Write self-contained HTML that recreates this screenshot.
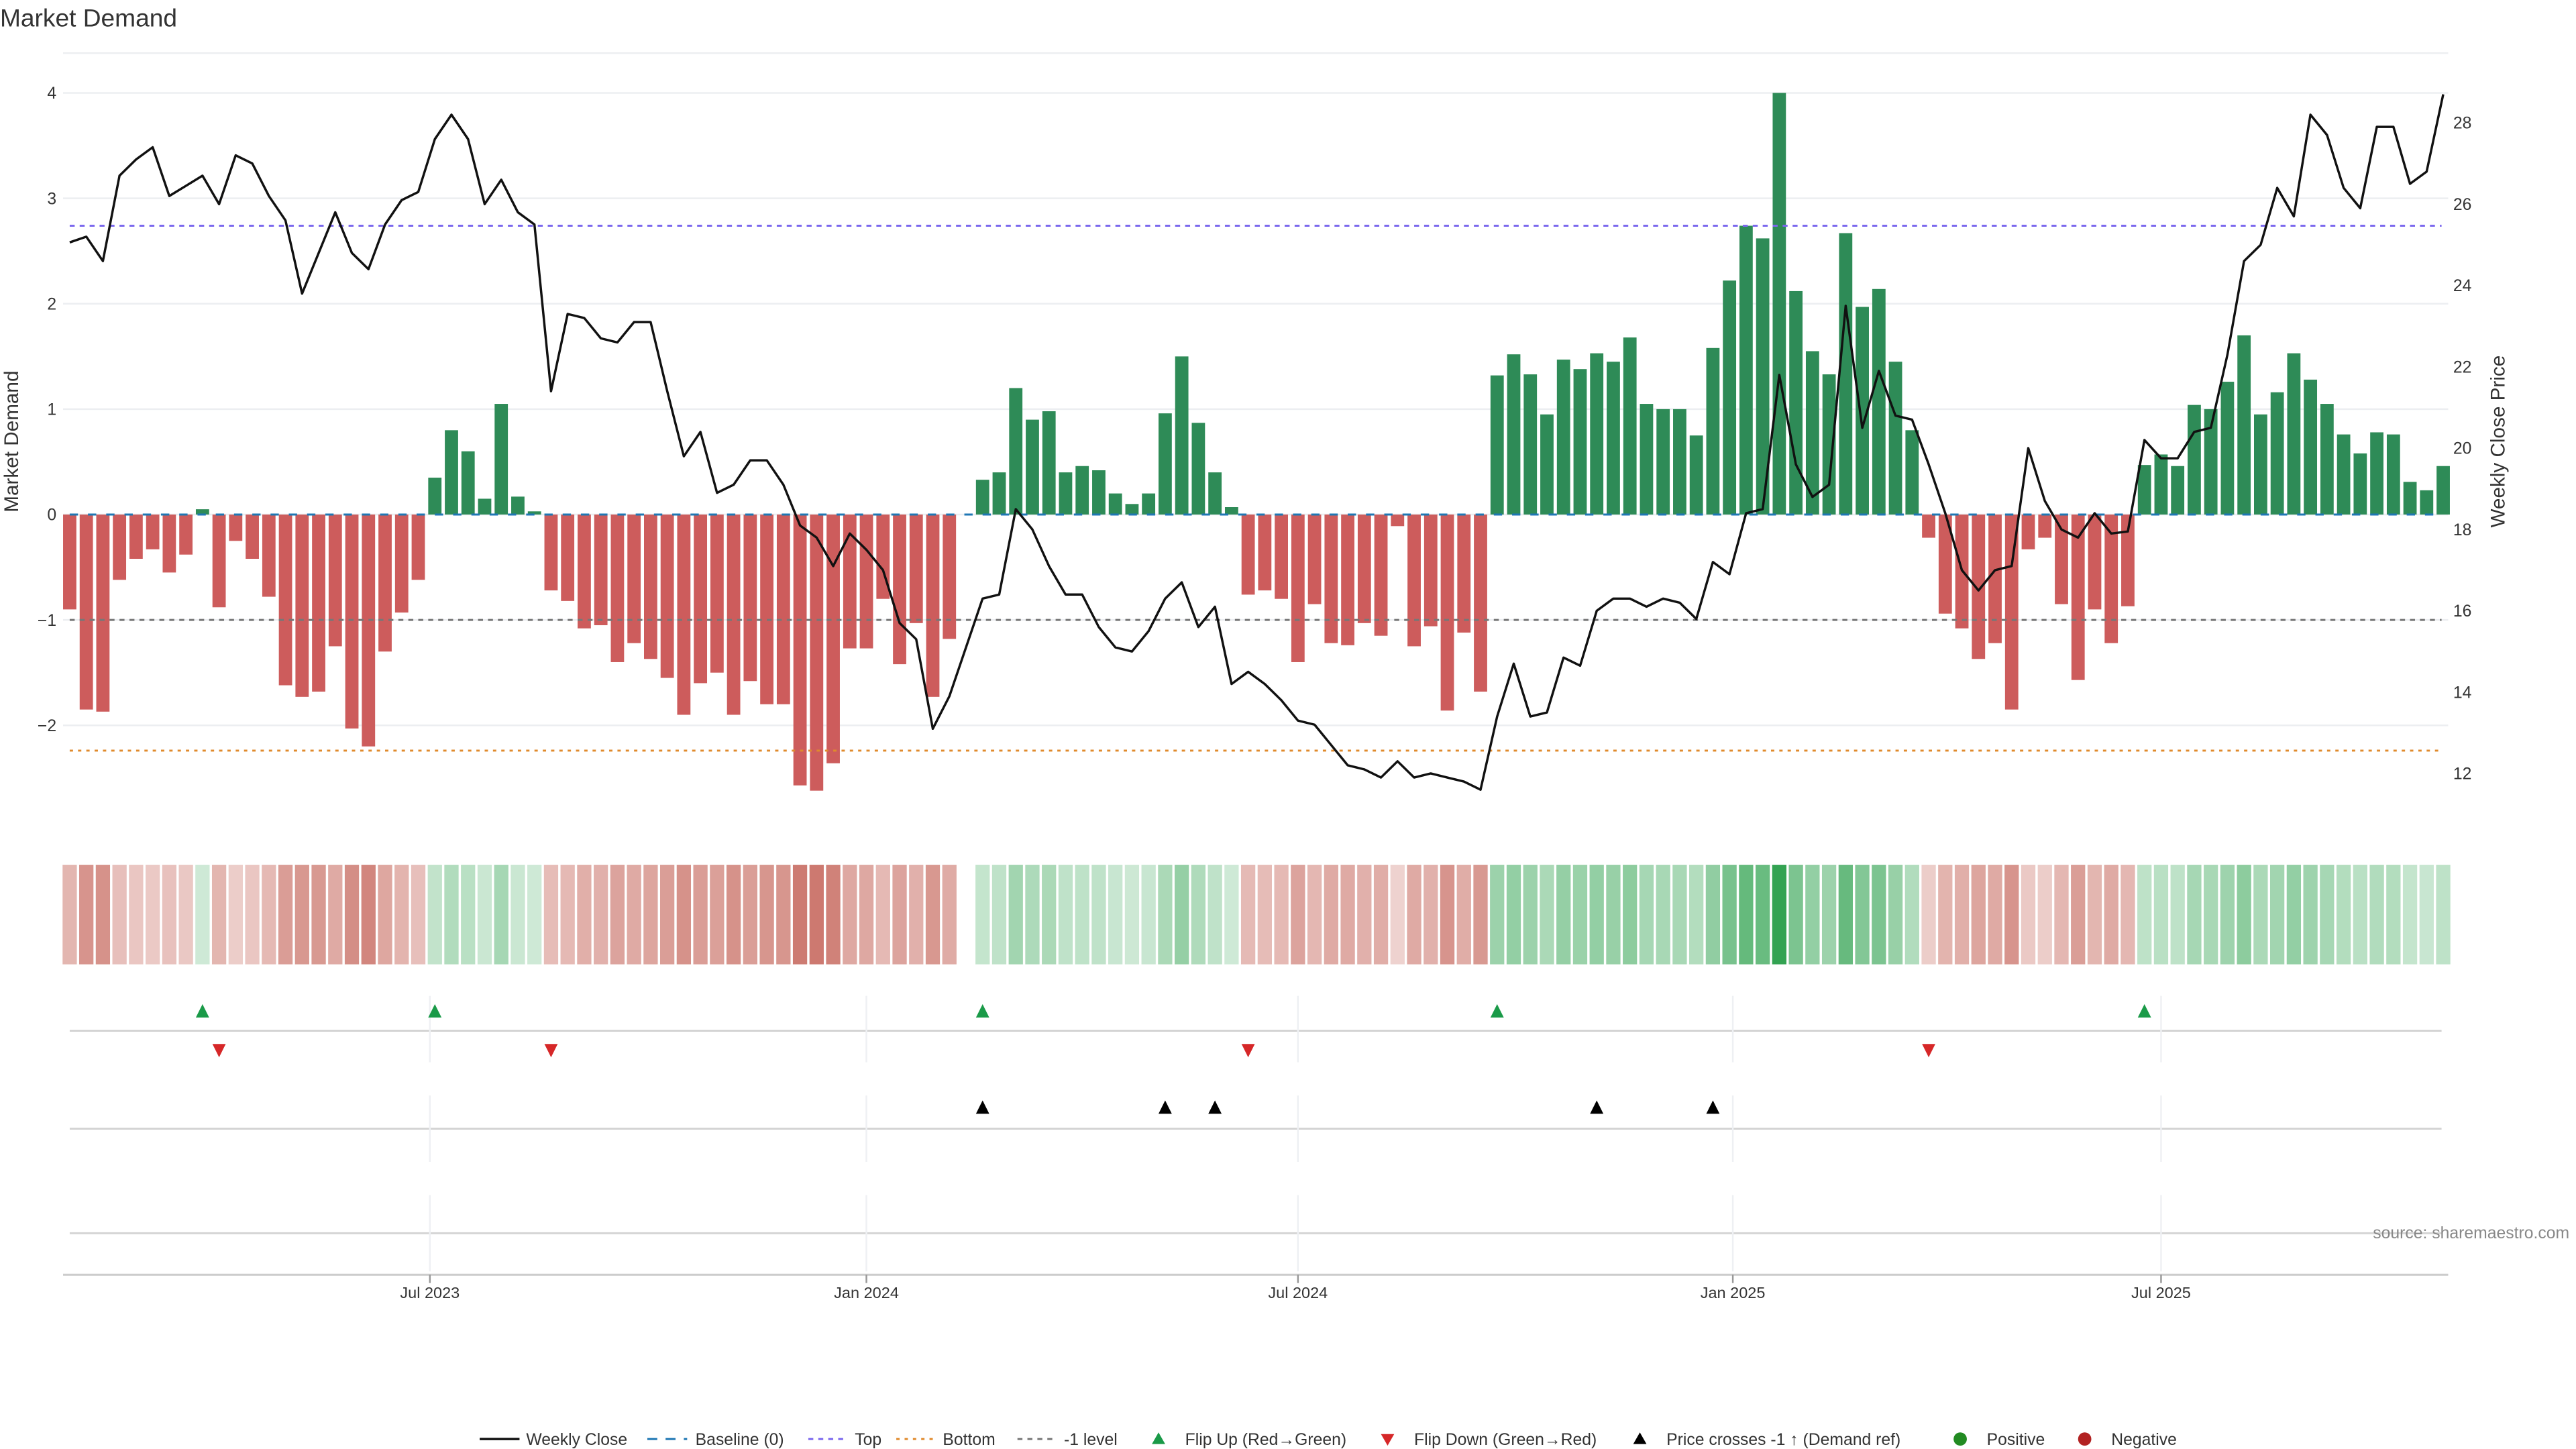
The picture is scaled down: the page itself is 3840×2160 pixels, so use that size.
<!DOCTYPE html>
<html><head><meta charset="utf-8"><title>Market Demand</title>
<style>
html,body{margin:0;padding:0;background:#fff;}
svg{display:block;font-family:"Liberation Sans","DejaVu Sans",sans-serif;}
</style></head>
<body>
<svg id="chart" width="3840" height="2160" viewBox="0 0 1552 873" xmlns="http://www.w3.org/2000/svg">
<rect width="1552" height="873" fill="#fff"/>
<text x="0" y="16" font-size="15" fill="#333">Market Demand</text>
<text transform="translate(11,266) rotate(-90)" text-anchor="middle" font-size="12" fill="#333">Market Demand</text>
<text transform="translate(1509,266) rotate(-90)" text-anchor="middle" font-size="12" fill="#333">Weekly Close Price</text>
<g id="grid"></g>
<g id="bars"></g>
<g id="refs"></g>
<g id="price"></g>
<g id="heat"></g>
<g id="markers"></g>
<g id="xaxis"></g>
<text x="1548" y="746" text-anchor="end" font-size="10" fill="#888">source: sharemaestro.com</text>
<g id="legend"></g>
</svg>
<script>
const demand = [-0.9,-1.85,-1.87,-0.62,-0.42,-0.33,-0.55,-0.38,0.05,-0.88,-0.25,-0.42,-0.78,-1.62,-1.73,-1.68,-1.25,-2.03,-2.2,-1.3,-0.93,-0.62,0.35,0.8,0.6,0.15,1.05,0.17,0.03,-0.72,-0.82,-1.08,-1.05,-1.4,-1.22,-1.37,-1.55,-1.9,-1.6,-1.5,-1.9,-1.58,-1.8,-1.8,-2.57,-2.62,-2.36,-1.27,-1.27,-0.8,-1.42,-1.03,-1.73,-1.18,0,0.33,0.4,1.2,0.9,0.98,0.4,0.46,0.42,0.2,0.1,0.2,0.96,1.5,0.87,0.4,0.07,-0.76,-0.72,-0.8,-1.4,-0.85,-1.22,-1.24,-1.03,-1.15,-0.11,-1.25,-1.06,-1.86,-1.12,-1.68,1.32,1.52,1.33,0.95,1.47,1.38,1.53,1.45,1.68,1.05,1.0,1.0,0.75,1.58,2.22,2.74,2.62,4.0,2.12,1.55,1.33,2.67,1.97,2.14,1.45,0.8,-0.22,-0.94,-1.08,-1.37,-1.22,-1.85,-0.33,-0.22,-0.85,-1.57,-0.9,-1.22,-0.87,0.47,0.57,0.46,1.04,1.0,1.26,1.7,0.95,1.16,1.53,1.28,1.05,0.76,0.58,0.78,0.76,0.31,0.23,0.46];
const closes = [25.06,25.2,24.6,26.7,27.1,27.4,26.2,26.45,26.7,26.0,27.2,27.0,26.2,25.6,23.8,24.8,25.8,24.8,24.4,25.5,26.1,26.3,27.6,28.2,27.6,26.0,26.6,25.8,25.5,21.4,23.3,23.2,22.7,22.6,23.1,23.1,21.4,19.8,20.4,18.9,19.1,19.7,19.7,19.1,18.1,17.8,17.1,17.9,17.5,17.0,15.7,15.3,13.1,13.9,15.1,16.3,16.4,18.5,18.0,17.1,16.4,16.4,15.6,15.1,15.0,15.5,16.3,16.7,15.6,16.1,14.2,14.5,14.2,13.8,13.3,13.2,12.7,12.2,12.1,11.9,12.3,11.9,12.0,11.9,11.8,11.6,13.4,14.7,13.4,13.5,14.85,14.65,16.0,16.3,16.3,16.1,16.3,16.2,15.8,17.2,16.9,18.4,18.5,21.8,19.6,18.8,19.1,23.5,20.5,21.9,20.8,20.7,19.6,18.4,17.0,16.5,17.0,17.1,20.0,18.7,18.0,17.8,18.4,17.9,17.95,20.2,19.75,19.75,20.4,20.5,22.3,24.6,25.0,26.4,25.7,28.2,27.7,26.4,25.9,27.9,27.9,26.5,26.8,28.7];
const priceCrossIdx = [55,66,69,92,99];
const leftTicks = [-2,-1,0,1,2,3,4];
const rightTicks = [12,14,16,18,20,22,24,26,28];
const xTickLabels = ["Jul 2023","Jan 2024","Jul 2024","Jan 2025","Jul 2025"];
const xTickWeeks = [21.7,48,74,100.2,126];
const topLevel = 2.74, bottomLevel = -2.24, minusLevel = -1;

const NS = "http://www.w3.org/2000/svg";
function mk(tag, attrs, parent){const e=document.createElementNS(NS,tag);for(const k in attrs)e.setAttribute(k,attrs[k]);parent.appendChild(e);return e;}
const X0=42, DX=10.0, PL=38, PR=1475, PT=32, PB=500;
const xs = i => X0 + i*DX;
const yD = v => 310 - v*63.5;
const yP = p => 74 + (28 - p)*24.5;

const grid=document.getElementById('grid');
leftTicks.forEach(t=>{
  const l=mk('line',{x1:PL,x2:PR,y1:yD(t),y2:yD(t),stroke:'#eceef1','stroke-width':1},grid);
  
  
  const tx=mk('text',{x:34,y:yD(t)+3.5,'text-anchor':'end','font-size':10,fill:'#333'},grid);
  tx.textContent=t<0?'\u2212'+Math.abs(t):String(t);
  
  
});
const gt=mk('line',{x1:PL,x2:PR,y1:PT,y2:PT,stroke:'#eceef1'},grid);


rightTicks.forEach(t=>{
  const tx=mk('text',{x:1478,y:yP(t)+3.5,'font-size':10,fill:'#333'},grid);
  tx.textContent=String(t);
  
  
});

const bars=document.getElementById('bars');
demand.forEach((v,i)=>{
  if(v===0)return;
  const y=Math.min(yD(v),310),h=Math.abs(yD(v)-310);
  const r=mk('rect',{x:xs(i)-4,y:y,width:8,height:h,fill:v>0?'#2e8b57':'#cd5c5c'},bars);
  
  
});

const refs=document.getElementById('refs');
const refDefs=[[0,'#1f77b4','5,6',1.2,'baseline-line'],[topLevel,'#7b68ee','3,3',1.2,'top-line'],[bottomLevel,'#e08a2c','2,3',1.2,'bottom-line'],[minusLevel,'#777','3,3',1.2,'minus-one-line']];
refDefs.forEach(d=>{
  const l=mk('line',{x1:42,x2:1471,y1:yD(d[0]),y2:yD(d[0]),stroke:d[1],'stroke-dasharray':d[2],'stroke-width':d[3]},refs);
  
  
});

const price=document.getElementById('price');
const pl=mk('polyline',{points:closes.map((p,i)=>xs(i)+','+yP(p)).join(' '),fill:'none',stroke:'#111','stroke-width':1.4,'stroke-linejoin':'round'},price);



const heat=document.getElementById('heat');
demand.forEach((v,i)=>{
  if(v===0)return;
  const a=Math.min(Math.abs(v)/4,1);
  const fill=v>0?'#2ca04c':'#c0584c';
  const op=v>0?(0.22+0.75*a):(0.25+0.55*Math.min(Math.abs(v)/2.6,1));
  const r=mk('rect',{x:xs(i)-4.3,y:521,width:8.6,height:60,fill:fill,'fill-opacity':op.toFixed(2)},heat);
  
  
});

const markers=document.getElementById('markers');
[[621,600,640],[680,660,700],[743,720,766]].forEach(row=>{
  const l=mk('line',{x1:42,x2:1471,y1:row[0],y2:row[0],stroke:'#d4d4d4','stroke-width':1.2},markers);
  
  
  xTickWeeks.forEach(w=>{
    const g=mk('line',{x1:xs(w),x2:xs(w),y1:row[1],y2:row[2],stroke:'#eef0f3'},markers);
    
    
  });
});
function tri(x,y,up,color,name){
  const pts=up?`${x-4},${y+4} ${x+4},${y+4} ${x},${y-4}`:`${x-4},${y-4} ${x+4},${y-4} ${x},${y+4}`;
  const t=mk('polygon',{points:pts,fill:color},markers);
  
  
}
for(let i=1;i<demand.length;i++){
  if(demand[i]>0&&demand[i-1]<=0)tri(xs(i),609,true,'#1a9a48','flip-up-marker');
  if(demand[i]<0&&demand[i-1]>=0)tri(xs(i),633,false,'#d62728','flip-down-marker');
}
priceCrossIdx.forEach(i=>tri(xs(i),667,true,'#000','price-cross-marker'));

const xa=document.getElementById('xaxis');
const ax=mk('line',{x1:PL,x2:PR,y1:768,y2:768,stroke:'#ccc','stroke-width':1.2},xa);


xTickWeeks.forEach((w,k)=>{
  const t=mk('line',{x1:xs(w),x2:xs(w),y1:768,y2:773,stroke:'#999'},xa);
  
  
  const tx=mk('text',{x:xs(w),y:782,'text-anchor':'middle','font-size':9.5,fill:'#333'},xa);
  tx.textContent=xTickLabels[k];
  
  
});

const lg=document.getElementById('legend');
const Y=867;
function ltext(x,s){const t=mk('text',{x:x,y:Y+3.5,'font-size':10,fill:'#333'},lg);t.textContent=s;}
function lline(x,color,dash,w){const l=mk('line',{x1:x,x2:x+24,y1:Y,y2:Y,stroke:color,'stroke-width':w,'stroke-dasharray':dash},lg);}
lline(289,'#111','none',1.4);ltext(317,'Weekly Close');
lline(390,'#1f77b4','6,5',1.2);ltext(419,'Baseline (0)');
lline(487,'#7b68ee','3,3',1.2);ltext(515,'Top');
lline(540,'#e08a2c','2,3',1.2);ltext(568,'Bottom');
lline(613,'#777','3,3',1.2);ltext(641,'-1 level');
function ltri(x,up,color){const pts=up?`${x-4},${Y+3} ${x+4},${Y+3} ${x},${Y-4}`:`${x-4},${Y-3} ${x+4},${Y-3} ${x},${Y+4}`;const t=mk('polygon',{points:pts,fill:color},lg);}
ltri(698,true,'#1a9a48');ltext(714,'Flip Up (Red\u2192Green)');
ltri(836,false,'#d62728');ltext(852,'Flip Down (Green\u2192Red)');
ltri(988,true,'#000');ltext(1004,'Price crosses -1 \u2191 (Demand ref)');
function lcirc(x,color){const c=mk('circle',{cx:x,cy:Y,r:4,fill:color},lg);}
lcirc(1181,'#228b22');ltext(1197,'Positive');
lcirc(1256,'#b22222');ltext(1272,'Negative');
</script>
</body></html>
